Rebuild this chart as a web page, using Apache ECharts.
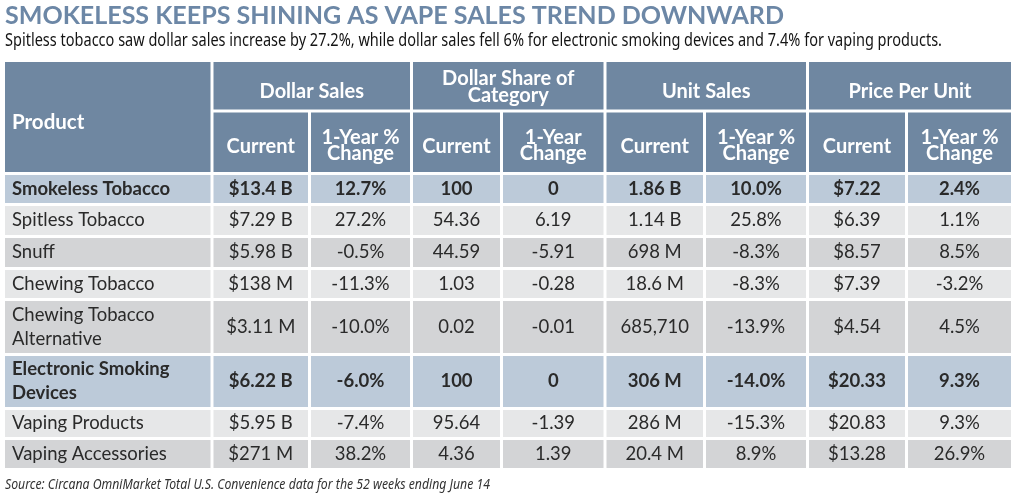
<!DOCTYPE html>
<html>
<head>
<meta charset="utf-8">
<script src="https://cdn.jsdelivr.net/npm/echarts@6/dist/echarts.min.js"></script>
<style>
html,body{margin:0;padding:0;background:#fff;}
#chart{width:1024px;height:500px;}
</style>
</head>
<body>
<div id="chart"></div>
<script>
// ---------- DATA ----------
const titleText = 'SMOKELESS KEEPS SHINING AS VAPE SALES TREND DOWNWARD';
const subtitleText = 'Spitless tobacco saw dollar sales increase by 27.2%, while dollar sales fell 6% for electronic smoking devices and 7.4% for vaping products.';
const sourceText = 'Source: Circana OmniMarket Total U.S. Convenience data for the 52 weeks ending June 14';

const productHeader = 'Product';
const groupHeaders = ['Dollar Sales', 'Dollar Share of\nCategory', 'Unit Sales', 'Price Per Unit'];
const subHeaders = ['Current', '1-Year %\nChange', 'Current', '1-Year\nChange', 'Current', '1-Year %\nChange', 'Current', '1-Year %\nChange'];

const products = ['Smokeless Tobacco', 'Spitless Tobacco', 'Snuff', 'Chewing Tobacco', 'Chewing Tobacco\nAlternative', 'Electronic Smoking\nDevices', 'Vaping Products', 'Vaping Accessories'];
const summaryRows = [true, false, false, false, false, true, false, false];

const dollarSales       = ['$13.4 B', '$7.29 B', '$5.98 B', '$138 M', '$3.11 M', '$6.22 B', '$5.95 B', '$271 M'];
const dollarSalesChange = ['12.7%', '27.2%', '-0.5%', '-11.3%', '-10.0%', '-6.0%', '-7.4%', '38.2%'];
const dollarShare       = ['100', '54.36', '44.59', '1.03', '0.02', '100', '95.64', '4.36'];
const dollarShareChange = ['0', '6.19', '-5.91', '-0.28', '-0.01', '0', '-1.39', '1.39'];
const unitSales         = ['1.86 B', '1.14 B', '698 M', '18.6 M', '685,710', '306 M', '286 M', '20.4 M'];
const unitSalesChange   = ['10.0%', '25.8%', '-8.3%', '-8.3%', '-13.9%', '-14.0%', '-15.3%', '8.9%'];
const pricePerUnit      = ['$7.22', '$6.39', '$8.57', '$7.39', '$4.54', '$20.33', '$20.83', '$13.28'];
const priceChange       = ['2.4%', '1.1%', '8.5%', '-3.2%', '4.5%', '9.3%', '9.3%', '26.9%'];

// ---------- LAYOUT (table geometry in page pixels) ----------
const colEdges  = [3.5, 212, 309.5, 411.5, 501.5, 605, 704.5, 807.5, 906.5, 1012.5];
const headEdges = [60.5, 111, 173.5];
const rowEdges  = [173.5, 204.5, 236.5, 268.5, 299.5, 354.5, 408.5, 438.5, 469.5];
const GAP = 3;

const C_HEAD = '#6f87a1';
const C_SUM = '#bccad9';
const C_LIGHT = '#e6e7e8';
const C_DARK = '#d3d4d6';
const C_TEXT = '#2a2a2a';
const FONT = 'Lato, "Noto Sans", sans-serif';

// fit a text line to a measured width (emulates the condensed typeface of the original)
function fitScale(text, font, targetWidth) {
  const ctx = document.createElement('canvas').getContext('2d');
  ctx.font = font;
  const w = ctx.measureText(text).width;
  return w > 0 ? targetWidth / w : 1;
}
const TITLE_FONT = 'bold 24px Lato';
const SUB_FONT = '18px "Noto Sans"';
const SRC_FONT = 'italic 14px "Noto Sans"';
const titleScale = fitScale(titleText, TITLE_FONT, 779);
const subScale = fitScale(subtitleText, SUB_FONT, 937);
const srcScale = fitScale(sourceText, SRC_FONT, 485);

// ---------- BUILD CELLS ----------
const valueCols = [dollarSales, dollarSalesChange, dollarShare, dollarShareChange, unitSales, unitSalesChange, pricePerUnit, priceChange];
const cells = [];
function addCell(c0, c1, y0, y1, text, opt) {
  cells.push(Object.assign({ value: [colEdges[c0], y0, colEdges[c1], y1], text: text }, opt));
}
// header
addCell(0, 1, headEdges[0], headEdges[2], productHeader, { fill: C_HEAD, color: '#fff', weight: 'bold', size: 20.5, pos: 'insideLeft', dist: 7, offset: [0, 5], lh: 20 });
groupHeaders.forEach((g, i) => {
  const two = g.indexOf('\n') >= 0;
  addCell(1 + i * 2, 3 + i * 2, headEdges[0], headEdges[1], g, { fill: C_HEAD, color: '#fff', weight: 'bold', size: 20, pos: 'inside', offset: [0, two ? 1.5 : 5.5], lh: 17 });
});
subHeaders.forEach((s, i) => {
  const two = s.indexOf('\n') >= 0;
  addCell(1 + i, 2 + i, headEdges[1], headEdges[2], s, { fill: C_HEAD, color: '#fff', weight: 'bold', size: 20, pos: 'inside', offset: [0, two ? 3.5 : 4.5], lh: 15.5 });
});
// body
let stripe = 0;
products.forEach((p, r) => {
  let fill;
  if (summaryRows[r]) { fill = C_SUM; stripe = 0; }
  else { fill = (stripe % 2 === 0) ? C_LIGHT : C_DARK; stripe++; }
  const weight = summaryRows[r] ? 'bold' : 'normal';
  addCell(0, 1, rowEdges[r], rowEdges[r + 1], p, { fill: fill, color: C_TEXT, weight: weight, size: 18.5, pos: 'insideLeft', dist: 7, lh: 24 });
  valueCols.forEach((col, c) => {
    addCell(1 + c, 2 + c, rowEdges[r], rowEdges[r + 1], col[r], { fill: fill, color: C_TEXT, weight: weight, size: 18.5, pos: 'inside', lh: 24 });
  });
});

// ---------- CHART ----------
const chart = echarts.init(document.getElementById('chart'), null, { renderer: 'canvas' });
chart.setOption({
  backgroundColor: '#ffffff',
  animation: false,
  graphic: [
    { type: 'text', x: 5, y: 16, scaleX: titleScale, style: { text: titleText, font: TITLE_FONT, fill: '#6c87a6', verticalAlign: 'middle', align: 'left' } },
    { type: 'text', x: 5, y: 41, scaleX: subScale, style: { text: subtitleText, font: SUB_FONT, fill: '#141414', verticalAlign: 'middle', align: 'left' } },
    { type: 'text', x: 5, y: 485, scaleX: srcScale, style: { text: sourceText, font: SRC_FONT, fill: '#333333', verticalAlign: 'middle', align: 'left' } }
  ],
  grid: { left: 0, right: 0, top: 0, bottom: 0 },
  xAxis: { type: 'value', min: 0, max: 1024, show: false },
  yAxis: { type: 'value', min: 0, max: 500, inverse: true, show: false },
  series: [{
    type: 'custom',
    coordinateSystem: 'cartesian2d',
    encode: { x: [0, 2], y: [1, 3] },
    data: cells.map(c => c.value),
    renderItem: function (params, api) {
      const cell = cells[params.dataIndex];
      const p0 = api.coord([api.value(0), api.value(1)]);
      const p1 = api.coord([api.value(2), api.value(3)]);
      const h = GAP / 2;
      return {
        type: 'rect',
        shape: { x: p0[0] + h, y: p0[1] + h, width: p1[0] - p0[0] - GAP, height: p1[1] - p0[1] - GAP },
        style: { fill: cell.fill },
        textContent: {
          style: {
            text: cell.text,
            fill: cell.color,
            fontFamily: FONT,
            fontWeight: cell.weight,
            fontSize: cell.size,
            lineHeight: cell.lh,
            align: cell.pos === 'insideLeft' ? 'left' : 'center'
          }
        },
        textConfig: { position: cell.pos, distance: cell.dist || 0, offset: cell.offset || [0, 0] }
      };
    }
  }]
});
</script>
</body>
</html>
